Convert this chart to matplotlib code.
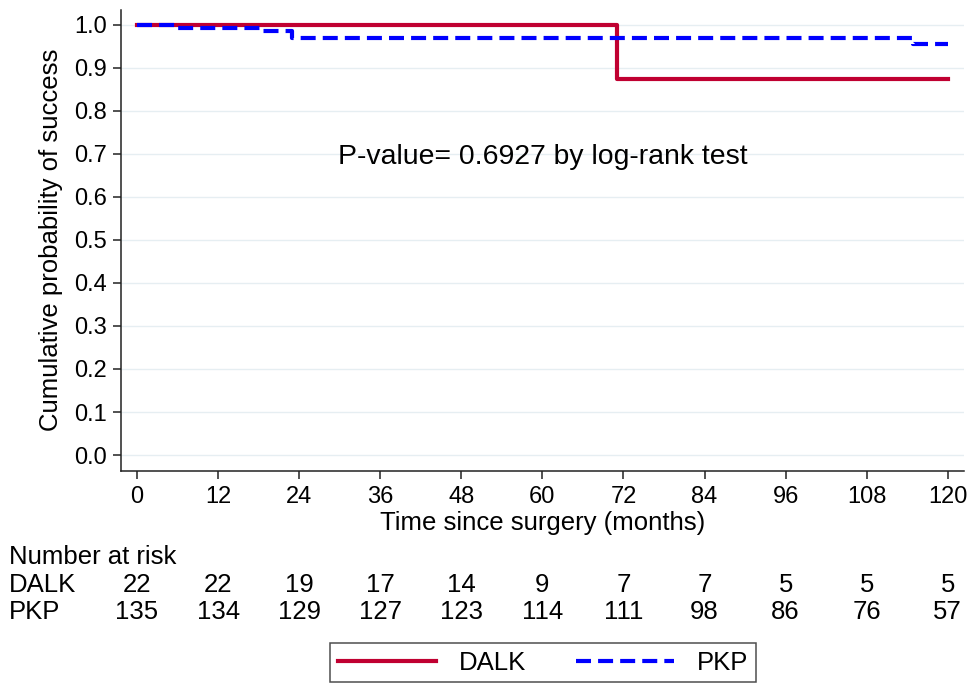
import matplotlib
matplotlib.use("Agg")
import matplotlib.pyplot as plt
from matplotlib.transforms import blended_transform_factory

plt.rcParams['font.family'] = ['Liberation Sans', 'DejaVu Sans']

# ---- data ----
dalk_times = [0, 71.1, 120]
dalk_surv = [1.0, 0.875, 0.875]
pkp_times = [0, 5.6, 18.7, 22.9, 114.9, 120]
pkp_surv = [1.0, 0.9926, 0.985, 0.970, 0.955, 0.955]

risk_times = [0, 12, 24, 36, 48, 60, 72, 84, 96, 108, 120]
risk_dalk = [22, 22, 19, 17, 14, 9, 7, 7, 5, 5, 5]
risk_pkp = [135, 134, 129, 127, 123, 114, 111, 98, 86, 76, 57]

y_ticks = [0.0, 0.1, 0.2, 0.3, 0.4, 0.5, 0.6, 0.7, 0.8, 0.9, 1.0]
p_text = "P-value= 0.6927 by log-rank test"

W, H = 971, 688
fig = plt.figure(figsize=(W / 100, H / 100), dpi=100)
ax = fig.add_axes([120.7 / W, 1 - 471 / H, (964 - 120.7) / W, (471 - 9.5) / H])

red = '#C00031'
blue = '#0000FF'

ax.plot(dalk_times, dalk_surv, drawstyle='steps-post', color=red, lw=3.0,
        solid_joinstyle='round', label='DALK', zorder=3)
ax.plot(pkp_times, pkp_surv, drawstyle='steps-post', color=blue, lw=3.0,
        linestyle=(0, (3.6, 1.7)), label='PKP', zorder=4)

ax.set_xlim(-2.41, 122.4)
ax.set_ylim(-0.0372, 1.036)
ax.set_xticks(risk_times)
ax.set_yticks(y_ticks)
ax.set_yticklabels([f"{v:.1f}" for v in y_ticks])

for s in ['top', 'right']:
    ax.spines[s].set_visible(False)
for s in ['left', 'bottom']:
    ax.spines[s].set_color('#222222')
    ax.spines[s].set_linewidth(1.1)

ax.tick_params(axis='both', length=5.8, width=1.1, color='#222222', labelsize=17)
ax.tick_params(axis='x', pad=5)
ax.tick_params(axis='y', pad=4)

ax.grid(axis='y', color='#e6eef2', lw=1.0, zorder=0)
ax.set_axisbelow(True)

ax.set_ylabel("Cumulative probability of success", fontsize=18.5, labelpad=8)
ax.set_xlabel("Time since surgery (months)", fontsize=18.5, labelpad=2)

ax.text(60.1, 0.677, p_text, fontsize=20.4, ha='center', va='baseline')

# number at risk table
tr = blended_transform_factory(ax.transData, fig.transFigure)
fs_risk = 18.5
fig.text(9 / W, 1 - 557 / H, "Number at risk", fontsize=fs_risk, ha='left', va='center')
fig.text(9 / W, 1 - 585 / H, "DALK", fontsize=fs_risk, ha='left', va='center')
fig.text(9 / W, 1 - 612 / H, "PKP", fontsize=fs_risk, ha='left', va='center')
for t, d, p in zip(risk_times, risk_dalk, risk_pkp):
    ax.text(t, 1 - 585 / H, str(d), transform=tr, fontsize=fs_risk, ha='center', va='center', clip_on=False)
    ax.text(t, 1 - 612 / H, str(p), transform=tr, fontsize=fs_risk, ha='center', va='center', clip_on=False)

leg = fig.legend(loc='upper center', bbox_to_anchor=(543 / W, 1 - 643 / H), ncol=2,
                 fontsize=18.5, frameon=True, fancybox=False, edgecolor='#222222',
                 handlelength=3.8, handletextpad=0.9, columnspacing=1.95,
                 borderpad=0.3, borderaxespad=0.0)
leg.get_frame().set_linewidth(1.1)

fig.savefig("out.png", dpi=100)
